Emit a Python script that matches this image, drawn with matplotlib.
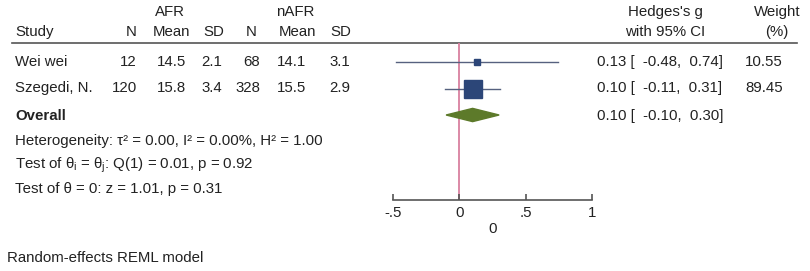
import numpy as np
import matplotlib.pyplot as plt

plt.rcParams['font.family'] = ['Liberation Sans', 'DejaVu Sans']
plt.rcParams['mathtext.fontset'] = 'custom'
plt.rcParams['mathtext.rm'] = 'Liberation Sans'
plt.rcParams['mathtext.it'] = 'Liberation Sans'

# study data
studies = ["Wei wei", "Szegedi, N."]
afr_n = [12, 120]
afr_mean = [14.5, 15.8]
afr_sd = [2.1, 3.4]
nafr_n = [68, 328]
nafr_mean = [14.1, 15.5]
nafr_sd = [3.1, 2.9]
g = [0.13, 0.10]
ci_lo = [-0.48, -0.11]
ci_hi = [0.74, 0.31]
weight = [10.55, 89.45]

overall_g = 0.10
overall_lo = -0.10
overall_hi = 0.30

xticks = [-0.5, 0, 0.5, 1]
xticklabels = ["-.5", "0", ".5", "1"]

W, H = 810, 271
fig = plt.figure(figsize=(W / 100, H / 100), dpi=100)

# text layer in pixel coords
bg = fig.add_axes([0, 0, 1, 1])
bg.set_xlim(0, W)
bg.set_ylim(H, 0)
bg.axis('off')

fs = 10.8
tc = '#222222'

def txt(x, y, s, ha='left', **kw):
    bg.text(x, y, s, ha=ha, va='center', fontsize=fs, color=tc, **kw)

# headers
txt(170, 12, "AFR", ha='center')
txt(295, 12, "nAFR", ha='center')
txt(15, 32, "Study")
txt(137, 32, "N", ha='right')
txt(172, 32, "Mean", ha='center')
txt(214, 32, "SD", ha='center')
txt(257, 32, "N", ha='right')
txt(298, 32, "Mean", ha='center')
txt(341, 32, "SD", ha='center')
txt(665, 12, "Hedges's g", ha='center')
txt(665, 32, "with 95% CI", ha='center')
txt(777, 12, "Weight", ha='center')
txt(777, 32, "(%)", ha='center')
bg.plot([12, 797], [43, 43], color='#555555', lw=1.2)

row_y = [62, 88]
for i in range(len(studies)):
    y = row_y[i]
    txt(15, y, studies[i])
    txt(137, y, str(afr_n[i]), ha='right')
    txt(171, y, f"{afr_mean[i]:.1f}", ha='center')
    txt(212, y, f"{afr_sd[i]:.1f}", ha='center')
    txt(260, y, str(nafr_n[i]), ha='right')
    txt(292, y, f"{nafr_mean[i]:.1f}", ha='center')
    txt(340, y, f"{nafr_sd[i]:.1f}", ha='center')
    txt(597, y, f"{g[i]:.2f} [  {ci_lo[i]:.2f},  {ci_hi[i]:.2f}]")
    txt(783, y, f"{weight[i]:.2f}", ha='right')

txt(15, 116, "Overall", fontweight='bold')
txt(597, 116, f"{overall_g:.2f} [  {overall_lo:.2f},  {overall_hi:.2f}]")
txt(15, 141, "Heterogeneity: τ² = 0.00, I² = 0.00%, H² = 1.00")
txt(15, 165, r"Test of θ$_\mathrm{i}$ = θ$_\mathrm{j}$: Q(1) = 0.01, p = 0.92")
txt(15, 189, "Test of θ = 0: z = 1.01, p = 0.31")
txt(7, 258, "Random-effects REML model")

# forest panel
x0, x1, ytop, ybot = 393, 592, 43, 200
ax = fig.add_axes([x0 / W, (H - ybot) / H, (x1 - x0) / W, (ybot - ytop) / H])
ax.patch.set_alpha(0)
sp = 26.5
ax.set_xlim(-0.5, 1)
ax.set_ylim((ybot - row_y[0]) / sp, -(row_y[0] - ytop) / sp)
for s in ['top', 'left', 'right']:
    ax.spines[s].set_visible(False)
ax.spines['bottom'].set_color('#555555')
ax.spines['bottom'].set_linewidth(1.2)
ax.set_yticks([])
ax.set_xticks(xticks)
ax.set_xticklabels(xticklabels, fontsize=fs, color=tc)
ax.tick_params(axis='x', direction='in', length=4, width=1.2, color='#555555', pad=4)
ax.set_xlabel("0", fontsize=fs, color=tc, labelpad=2)

ax.axvline(0, color='#d9809f', lw=1.3, zorder=1)

for i in range(len(studies)):
    ax.plot([ci_lo[i], ci_hi[i]], [i, i], color='#56617f', lw=1.0, zorder=2, clip_on=False)
    ax.plot(g[i], i, marker='s', color='#2c4678', markersize=1.3 * np.sqrt(weight[i]),
            zorder=3, clip_on=False)

oy = 2.0
dh = 0.25
ax.fill([overall_lo, overall_g, overall_hi, overall_g], [oy, oy - dh, oy, oy + dh],
        color='#5d7a2a', zorder=3)

fig.savefig("out.png", dpi=100)
